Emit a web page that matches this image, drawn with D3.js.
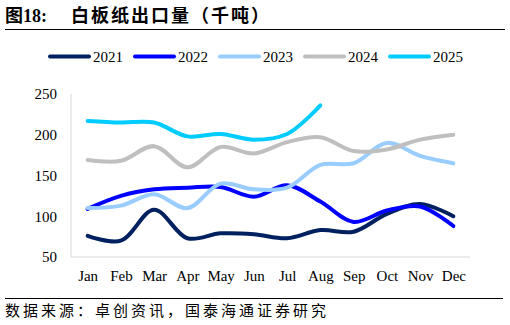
<!DOCTYPE html>
<html><head><meta charset="utf-8">
<script src="https://cdn.jsdelivr.net/npm/d3@7"></script>
<style>body{margin:0;background:#fff;} svg{display:block;}</style>
</head><body>
<script>
const months = ["Jan","Feb","Mar","Apr","May","Jun","Jul","Aug","Sep","Oct","Nov","Dec"];
const seriesNames = ["2021","2022","2023","2024","2025"];
const colors = ["#002060","#0000FF","#99CCFF","#BFBFBF","#00CCFF"];
const v2021 = [76,70,108,73,79,78,73,83,81,103,115,100];
const v2022 = [109,125,133,135,136,124,138,118,93,107,112,88];
const v2023 = [110,113,127,110,140,133,135,163,165,190,174,165];
const v2024 = [169,168,186,160,185,177,191,197,180,182,194,200];
const v2025 = [217,215,215,198,201,194,201,236];
const yTicks = [50,100,150,200,250];
const allValues = [v2021,v2022,v2023,v2024,v2025];

const W=510,H=325;
const svg=d3.select("body").append("svg").attr("width",W).attr("height",H);
const serif='"Times New Roman","Liberation Serif",serif';
const cjk='"Times New Roman","Liberation Serif","Noto Sans CJK SC",serif';

// title
const t=svg.append("text").attr("x",5).attr("y",22).attr("font-weight","bold").attr("font-family",cjk).attr("font-size",18).attr("fill","#000");
t.append("tspan").text("图18:");
t.append("tspan").attr("x",71).attr("letter-spacing",2).text("白板纸出口量（千吨）");
svg.append("line").attr("x1",5).attr("x2",505).attr("y1",29.5).attr("y2",29.5).attr("stroke","#000").attr("stroke-width",1.2);

// legend
const legX=[49,134,219,304,389];
seriesNames.forEach((n,i)=>{
  const g=svg.append("g");
  g.append("line").attr("x1",legX[i]+1).attr("x2",legX[i]+40).attr("y1",56.5).attr("y2",56.5)
    .attr("stroke",colors[i]).attr("stroke-width",4).attr("stroke-linecap","round");
  g.append("text").attr("x",legX[i]+44).attr("y",61.5).attr("font-family",serif).attr("font-size",15).text(n);
});

const x=d3.scalePoint().domain(months).range([71,470]).padding(0.5);
const y=d3.scaleLinear().domain([50,250]).range([257,94]);

// axes lines
svg.append("line").attr("x1",71).attr("x2",71).attr("y1",94).attr("y2",257).attr("stroke","#D9D9D9").attr("stroke-width",1);
svg.append("line").attr("x1",71).attr("x2",470).attr("y1",257).attr("y2",257).attr("stroke","#D9D9D9").attr("stroke-width",1);

const yAxis=svg.append("g").attr("transform","translate(71,0)").call(d3.axisLeft(y).tickValues(yTicks).tickSize(0).tickPadding(14));
yAxis.select(".domain").remove();
yAxis.selectAll("text").attr("font-family",serif).attr("font-size",15).attr("fill","#000");

const xAxis=svg.append("g").attr("transform","translate(0,257)").call(d3.axisBottom(x).tickSize(0).tickPadding(13));
xAxis.select(".domain").remove();
xAxis.selectAll("text").attr("font-family",serif).attr("font-size",15).attr("fill","#000");

const line=d3.line().x((d,i)=>x(months[i])).y(d=>y(d)).curve(d3.curveCatmullRom.alpha(0.5));
allValues.forEach((vals,i)=>{
  svg.append("path").attr("d",line(vals)).attr("fill","none").attr("stroke",colors[i])
    .attr("stroke-width",4).attr("stroke-linecap","round").attr("stroke-linejoin","round");
});

// footer
svg.append("line").attr("x1",5).attr("x2",503).attr("y1",298.5).attr("y2",298.5).attr("stroke","#000").attr("stroke-width",1.2);
svg.append("text").attr("x",5).attr("y",316).attr("font-family",cjk).attr("font-size",15).attr("letter-spacing",3).text("数据来源：卓创资讯，国泰海通证券研究");
</script>
</body></html>
